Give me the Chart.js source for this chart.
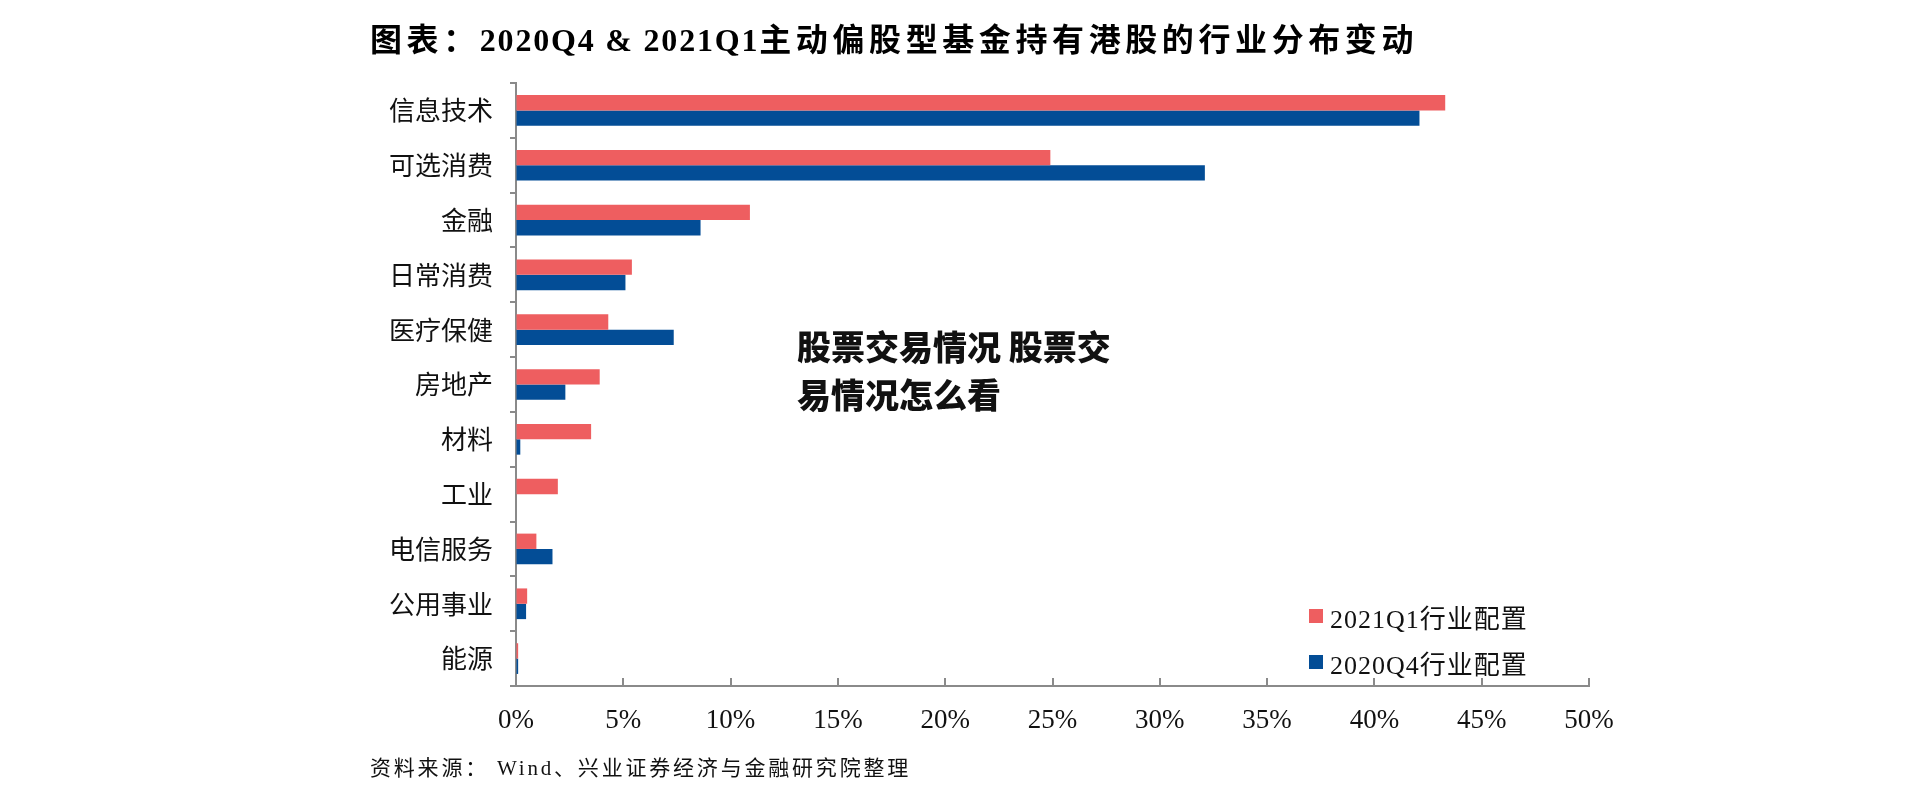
<!DOCTYPE html>
<html lang="zh">
<head>
<meta charset="utf-8">
<title>2020Q4 & 2021Q1主动偏股型基金持有港股的行业分布变动</title>
<script src="https://cdn.jsdelivr.net/npm/chart.js@4.4.1/dist/chart.umd.min.js"></script>
<style>
  body { margin: 0; background: #fff; }
  #wrap { position: relative; width: 1920px; height: 798px; overflow: hidden; }
  #chart { position: absolute; left: 0; top: 0; }
  #title {
    position: absolute; left: 370px; top: 20px; line-height: 40px;
    font-family: "Liberation Serif", "Noto Sans CJK SC"; font-weight: bold;
    font-size: 32px; color: #000; white-space: nowrap;
  }
  #title .cjk { letter-spacing: 4.6px; }
  #title .lat { letter-spacing: 1.8px; }
  #mark {
    position: absolute; left: 797px; top: 322px; line-height: 48px;
    font-family: "Noto Sans CJK SC"; font-weight: 900; font-size: 34px; color: #111;
  }
  #legend { position: absolute; left: 1309px; top: 593px; }
  #legend .item { height: 46px; display: flex; align-items: center; }
  #legend .box { width: 14px; height: 14px; margin-right: 7px; }
  #legend .txt { font-family: "Liberation Serif", "Noto Sans CJK SC"; font-size: 26px; color: #111; letter-spacing: 1px; }
  #source {
    position: absolute; left: 370px; top: 754px; line-height: 28px;
    font-family: "Liberation Serif", "Noto Sans CJK SC"; font-size: 21px; color: #111;
    letter-spacing: 2.8px; white-space: nowrap;
  }
</style>
</head>
<body>
<div id="wrap">
  <canvas id="chart" width="1920" height="798"></canvas>
  <div id="title"><span class="cjk">图表：</span><span class="lat">2020Q4 &amp; 2021Q1</span><span class="cjk">主动偏股型基金持有港股的行业分布变动</span></div>
  <div id="mark">股票交易情况 股票交<br>易情况怎么看</div>
  <div id="legend"></div>
  <div id="source">资料来源： Wind、兴业证券经济与金融研究院整理</div>
</div>
<script>
const industries = ['信息技术', '可选消费', '金融', '日常消费', '医疗保健', '房地产', '材料', '工业', '电信服务', '公用事业', '能源'];
const q1_2021 = [43.3, 24.9, 10.9, 5.4, 4.3, 3.9, 3.5, 1.95, 0.95, 0.52, 0.1];
const q4_2020 = [42.1, 32.1, 8.6, 5.1, 7.35, 2.3, 0.2, 0, 1.7, 0.47, 0.1];
const xTicks = [0, 5, 10, 15, 20, 25, 30, 35, 40, 45, 50];

const red = '#EE5E60';
const blue = '#034D96';
const axisColor = '#8a8a8a';

// x axis ticks point up into the plot, as in the original
const innerTicks = {
  id: 'innerTicks',
  afterDraw(chart) {
    const x = chart.scales.x;
    const ctx = chart.ctx;
    ctx.save();
    ctx.strokeStyle = axisColor;
    ctx.lineWidth = 2;
    xTicks.forEach(v => {
      const px = Math.round(x.getPixelForValue(v));
      ctx.beginPath();
      ctx.moveTo(px, x.top);
      ctx.lineTo(px, x.top - 8);
      ctx.stroke();
    });
    ctx.restore();
  }
};

const chart = new Chart(document.getElementById('chart'), {
  type: 'bar',
  data: {
    labels: industries,
    datasets: [
      { label: '2021Q1行业配置', data: q1_2021, backgroundColor: red },
      { label: '2020Q4行业配置', data: q4_2020, backgroundColor: blue }
    ]
  },
  options: {
    indexAxis: 'y',
    responsive: false,
    animation: false,
    layout: { padding: { left: 0, right: 331, top: 83, bottom: 0 } },
    datasets: { bar: { categoryPercentage: 0.56, barPercentage: 1.0 } },
    plugins: {
      legend: { display: false },
      tooltip: { enabled: false }
    },
    scales: {
      x: {
        min: 0,
        max: 50,
        afterBuildTicks: s => { s.ticks = xTicks.map(v => ({ value: v })); },
        afterFit: s => { s.height = 112; },
        grid: { drawOnChartArea: false, drawTicks: false },
        border: { color: axisColor, width: 2 },
        ticks: {
          padding: 19,
          color: '#111',
          font: { family: '"Liberation Serif"', size: 27 },
          callback: v => v + '%'
        }
      },
      y: {
        afterFit: s => { s.width = 516; },
        grid: { drawOnChartArea: false, drawTicks: true, tickLength: 6, color: axisColor, lineWidth: 2 },
        border: { color: axisColor, width: 2 },
        ticks: {
          padding: 17,
          color: '#111',
          font: { family: '"Noto Sans CJK SC"', size: 26 }
        }
      }
    }
  },
  plugins: [innerTicks]
});

const legend = document.getElementById('legend');
chart.data.datasets.forEach(ds => {
  const item = document.createElement('div');
  item.className = 'item';
  item.innerHTML = `<span class="box" style="background:${ds.backgroundColor}"></span><span class="txt">${ds.label}</span>`;
  legend.appendChild(item);
});
</script>
</body>
</html>
